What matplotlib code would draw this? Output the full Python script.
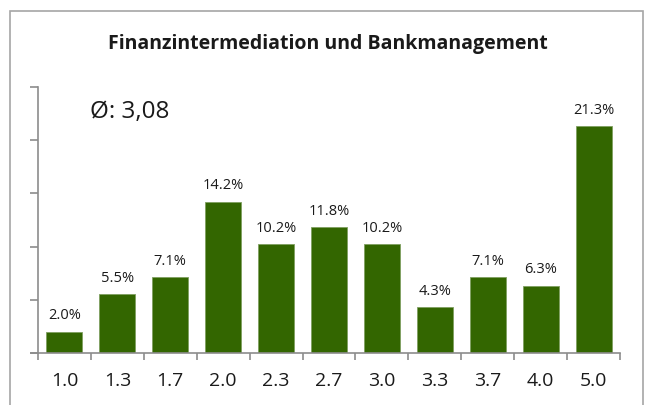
import matplotlib
matplotlib.use("Agg")
import matplotlib.pyplot as plt
from matplotlib.patches import Rectangle

# Notenverteilung
grades = ["1.0", "1.3", "1.7", "2.0", "2.3", "2.7", "3.0", "3.3", "3.7", "4.0", "5.0"]
shares = [2.0, 5.5, 7.1, 14.2, 10.2, 11.8, 10.2, 4.3, 7.1, 6.3, 21.3]
title = "Finanzintermediation und Bankmanagement"
mean_text = "Ø: 3,08"

plt.rcParams['font.family'] = ['Open Sans', 'DejaVu Sans']

W, H = 649, 406
fig = plt.figure(figsize=(W / 100, H / 100), dpi=100)

# grauer Rahmen um das Diagramm (unten abgeschnitten)
fig.patches.append(Rectangle((10 / W, -0.05), (643 - 10) / W, (H - 12) / H + 0.05,
                             transform=fig.transFigure, fill=False,
                             edgecolor="#a6a6a6", linewidth=1.2))

ax = fig.add_axes([38 / W, (H - 354) / H, (620 - 38) / W, (354 - 88) / H])
x = range(len(grades))
ax.bar(x, shares, width=0.68, color="#336600", edgecolor="#7f9f60", linewidth=0.6)

for xi, v in zip(x, shares):
    ax.annotate(f"{v:.1f}%", (xi, v), xytext=(0, 7), textcoords="offset points",
                ha="center", va="bottom", fontsize=10.5, color="#1a1a1a")

ax.set_xlim(-0.5, len(grades) - 0.5)
ax.set_ylim(0, 25)
ax.set_yticks([0, 5, 10, 15, 20, 25])
ax.set_yticklabels([])
ax.set_xticks(list(x))
ax.set_xticklabels(grades, fontsize=14, color="#1a1a1a")
ax.set_xticks([i - 0.5 for i in range(len(grades) + 1)], minor=True)
ax.tick_params(axis="x", which="major", length=0, pad=13)
ax.tick_params(axis="x", which="minor", length=5, color="#8c8c8c", width=1.2)
ax.tick_params(axis="y", length=6, color="#8c8c8c", width=1.2)

for s in ["top", "right"]:
    ax.spines[s].set_visible(False)
ax.spines["left"].set_color("#8c8c8c")
ax.spines["bottom"].set_color("#8c8c8c")
ax.spines["left"].set_linewidth(1.2)
ax.spines["bottom"].set_linewidth(1.2)
ax.spines["bottom"].set_bounds(-0.63, len(grades) - 0.5)

fig.text(328 / W, 1 - 44 / H, title, ha="center", va="center",
         fontsize=14, fontweight="bold", color="#1a1a1a")
fig.text(90 / W, 1 - 112 / H, mean_text, ha="left", va="center",
         fontsize=17.5, color="#1a1a1a")

fig.savefig("out.png", dpi=100)
